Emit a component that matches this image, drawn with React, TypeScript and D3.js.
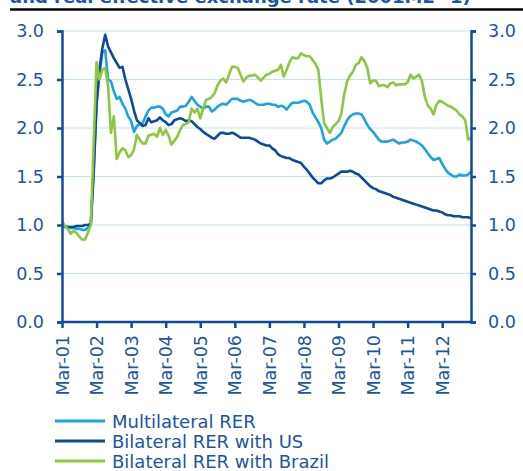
import React, { useRef, useEffect } from 'react';
import * as d3 from 'd3';

// monthly, Mar-01 .. Jan-13 (index 0 = Mar-01)
const multilateral = [
  1.0, 0.99, 0.98, 0.97, 0.97, 0.96, 0.96, 0.95, 0.95, 0.97,
  1.0, 1.55, 2.25, 2.55, 2.78, 2.8, 2.5, 2.48, 2.38, 2.3,
  2.32, 2.25, 2.2, 2.12, 2.07, 1.96, 2.02, 2.04, 2.05, 2.12,
  2.18, 2.21, 2.21, 2.22, 2.22, 2.2, 2.14, 2.12, 2.16, 2.17,
  2.18, 2.22, 2.22, 2.23, 2.27, 2.32, 2.28, 2.24, 2.22, 2.2,
  2.22, 2.22, 2.17, 2.19, 2.22, 2.24, 2.25, 2.24, 2.27, 2.3,
  2.3, 2.3, 2.28, 2.27, 2.28, 2.29, 2.28, 2.26, 2.24, 2.24,
  2.24, 2.25, 2.25, 2.24, 2.24, 2.22, 2.23, 2.22, 2.19, 2.23,
  2.26, 2.26, 2.26, 2.27, 2.28, 2.27, 2.24, 2.16, 2.11, 2.06,
  2.0, 1.88, 1.84, 1.86, 1.88, 1.89, 1.92, 1.95, 2.02, 2.08,
  2.12, 2.14, 2.15, 2.15, 2.14, 2.09, 2.03, 1.99, 1.96, 1.92,
  1.88, 1.86, 1.86, 1.86, 1.87, 1.88, 1.86, 1.84, 1.85, 1.85,
  1.86, 1.88, 1.87, 1.86, 1.84, 1.82, 1.78, 1.74, 1.7, 1.67,
  1.68, 1.69, 1.63, 1.58, 1.54, 1.52, 1.5, 1.5, 1.52, 1.51,
  1.51, 1.52, 1.55,
];

const bilateralUS = [
  1.0, 0.98, 0.98, 0.98, 0.98, 0.99, 0.99, 0.99, 1.0, 1.0,
  1.01, 1.55, 2.25, 2.6, 2.82, 2.96, 2.84, 2.78, 2.72, 2.67,
  2.62, 2.63, 2.5, 2.4, 2.3, 2.18, 2.08, 2.05, 2.02, 2.03,
  2.1, 2.06, 2.07, 2.08, 2.11, 2.08, 2.06, 2.03, 2.04, 2.08,
  2.09, 2.1, 2.09, 2.07, 2.08, 2.07, 2.04, 2.01, 1.99, 1.96,
  1.94, 1.92, 1.9, 1.89, 1.92, 1.95, 1.95, 1.94, 1.94, 1.95,
  1.94, 1.92, 1.9, 1.9, 1.9, 1.9, 1.89, 1.88, 1.86, 1.84,
  1.83, 1.82, 1.82, 1.79, 1.77, 1.73, 1.71, 1.7, 1.69, 1.69,
  1.67, 1.66, 1.65, 1.64, 1.6, 1.57, 1.53, 1.49, 1.46, 1.43,
  1.43, 1.46, 1.48, 1.48, 1.49, 1.51, 1.53, 1.55, 1.55, 1.55,
  1.56, 1.55, 1.53, 1.52, 1.49, 1.46, 1.43, 1.4, 1.38, 1.37,
  1.35, 1.34, 1.33, 1.32, 1.31, 1.29, 1.28, 1.27, 1.26, 1.25,
  1.24, 1.23, 1.22, 1.21, 1.2, 1.19, 1.18, 1.17, 1.16, 1.15,
  1.15, 1.14, 1.13, 1.11, 1.1, 1.1, 1.09, 1.09, 1.09, 1.08,
  1.08, 1.08, 1.07,
];

const bilateralBrazil = [
  1.04, 0.99, 0.96, 0.91, 0.94, 0.92, 0.88, 0.85, 0.85, 0.92,
  1.0, 1.85, 2.68, 2.5, 2.6, 2.62, 2.43, 1.95, 2.12, 1.68,
  1.75, 1.79, 1.77, 1.7, 1.72, 1.78, 1.93, 1.88, 1.84, 1.84,
  1.92, 1.93, 1.94, 1.91, 2.0, 1.93, 1.98, 1.92, 1.83, 1.87,
  1.91, 1.98, 2.03, 2.04, 2.06, 2.2, 2.16, 2.2, 2.1, 2.2,
  2.29, 2.3, 2.32, 2.36, 2.44, 2.49, 2.51, 2.47, 2.55, 2.63,
  2.63, 2.62, 2.55, 2.48, 2.52, 2.54, 2.54, 2.55, 2.52, 2.49,
  2.52, 2.55, 2.56, 2.58, 2.59, 2.6, 2.65, 2.53, 2.6, 2.68,
  2.73, 2.72, 2.72, 2.77, 2.75, 2.74, 2.74, 2.7, 2.66, 2.6,
  2.3, 2.05, 2.0, 1.95, 2.01, 2.04, 2.07, 2.15, 2.35, 2.48,
  2.54, 2.58, 2.65, 2.67, 2.73, 2.69, 2.62, 2.46, 2.49, 2.49,
  2.43, 2.44, 2.44, 2.42, 2.46, 2.47, 2.44, 2.45, 2.45, 2.45,
  2.47, 2.55, 2.51, 2.53, 2.55, 2.48, 2.32, 2.23, 2.2, 2.14,
  2.24, 2.28, 2.27, 2.25, 2.23, 2.22, 2.2, 2.18, 2.14, 2.12,
  2.08, 1.88, 1.9,
];

const tickLabels = [
  'Mar-01', 'Mar-02', 'Mar-03', 'Mar-04', 'Mar-05', 'Mar-06',
  'Mar-07', 'Mar-08', 'Mar-09', 'Mar-10', 'Mar-11', 'Mar-12',
];

const yTicks = [0, 0.5, 1, 1.5, 2, 2.5, 3];

const seriesNames = ['Multilateral RER', 'Bilateral RER with US', 'Bilateral RER with Brazil'];
const seriesColors = ['#1ca3e0', '#0d4a9c', '#8dc63f'];

const App = () => {
  const svgRef = useRef<SVGSVGElement>(null);

  useEffect(() => {
    const svg = d3.select(svgRef.current);
    svg.selectAll('*').remove();

    const width = 523;
    const height = 471;
    const left = 62;
    const right = 471;
    const top = 31;
    const bottom = 322;
    const font = '"DejaVu Sans", Verdana, sans-serif';
    const axisColor = '#0f4c9e';
    const textColor = '#1b55a3';

    const x = d3.scaleLinear().domain([0, multilateral.length - 1]).range([left, right]);
    const y = d3.scaleLinear().domain([0, 3]).range([bottom, top]);

    // title (cut off at top) and rule
    svg.append('text')
      .attr('x', 10)
      .attr('y', 3)
      .attr('font-family', font)
      .attr('font-weight', 'bold')
      .attr('font-size', 18)
      .attr('fill', textColor)
      .text('and real effective exchange rate (2001M2=1)');
    svg.append('line')
      .attr('x1', 10).attr('x2', width)
      .attr('y1', 9.5).attr('y2', 9.5)
      .attr('stroke', '#000').attr('stroke-width', 2.5);

    // gridlines
    svg.append('g')
      .selectAll('line')
      .data(yTicks.filter(d => d > 0))
      .join('line')
      .attr('x1', left).attr('x2', right)
      .attr('y1', d => y(d)).attr('y2', d => y(d))
      .attr('stroke', '#bfe5f5').attr('stroke-width', 1.2);

    // lines
    const line = d3.line<number>()
      .x((d, i) => x(i))
      .y(d => y(d));
    [multilateral, bilateralUS, bilateralBrazil].forEach((s, i) => {
      svg.append('path')
        .datum(s)
        .attr('d', line)
        .attr('fill', 'none')
        .attr('stroke', seriesColors[i])
        .attr('stroke-width', 2.6)
        .attr('stroke-linejoin', 'round');
    });

    // y axes
    const styleAxis = (g) => {
      g.select('.domain').attr('stroke', axisColor).attr('stroke-width', 2.5);
      g.selectAll('.tick line').attr('stroke', axisColor).attr('stroke-width', 2.5);
      g.selectAll('.tick text')
        .attr('fill', textColor)
        .attr('font-family', font)
        .attr('font-size', 17.5);
    };
    svg.append('g')
      .attr('transform', `translate(${left},0)`)
      .call(d3.axisLeft(y).tickValues(yTicks).tickFormat(d3.format('.1f')).tickSizeInner(5).tickSizeOuter(5).tickPadding(13))
      .call(styleAxis);
    svg.append('g')
      .attr('transform', `translate(${right},0)`)
      .call(d3.axisRight(y).tickValues(yTicks).tickFormat(d3.format('.1f')).tickSizeInner(5).tickSizeOuter(5).tickPadding(12))
      .call(styleAxis);

    // x axis
    const xg = svg.append('g')
      .attr('transform', `translate(0,${bottom})`)
      .call(d3.axisBottom(x)
        .tickValues(tickLabels.map((_, i) => i * 12))
        .tickFormat((d, i) => tickLabels[i])
        .tickSizeInner(6).tickSizeOuter(0))
      .call(styleAxis);
    xg.select('.domain').attr('d', `M${left},0H${right}`);
    xg.selectAll('.tick text')
      .attr('text-anchor', 'end')
      .attr('transform', 'rotate(-90)')
      .attr('x', -13)
      .attr('y', 0)
      .attr('dy', '0.35em');

    // legend
    const lg = svg.append('g');
    seriesNames.forEach((name, i) => {
      const yy = 421 + i * 20;
      lg.append('line')
        .attr('x1', 55).attr('x2', 105)
        .attr('y1', yy).attr('y2', yy)
        .attr('stroke', seriesColors[i]).attr('stroke-width', 3);
      lg.append('text')
        .attr('x', 112).attr('y', yy + 6.5)
        .attr('font-family', font)
        .attr('font-size', 18)
        .attr('fill', textColor)
        .text(name);
    });

    svg.attr('width', width).attr('height', height);
  }, []);

  return (
    <svg
      ref={svgRef}
      style={{ position: 'absolute', left: 0, top: 0, background: '#fff' }}
    />
  );
};

export default App;
